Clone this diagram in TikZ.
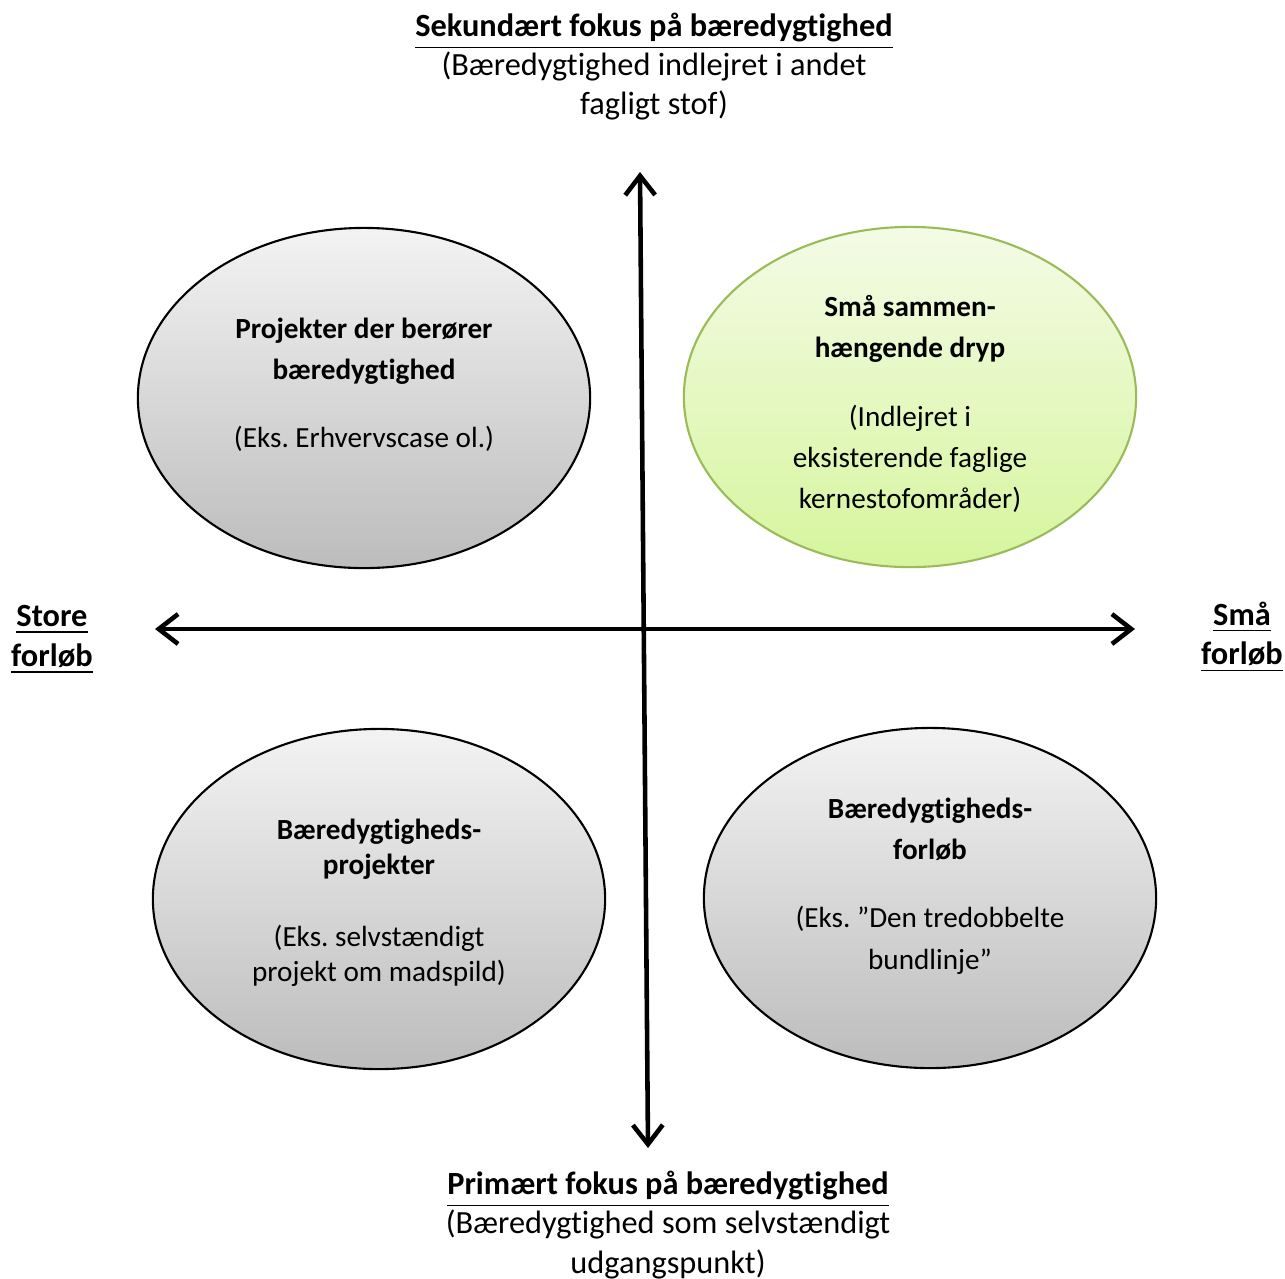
\documentclass[tikz,border=0pt]{standalone}
\usepackage{fontspec}
\setmainfont[Ligatures=CommonOff]{Carlito}
\usetikzlibrary{shapes.geometric,arrows.meta,positioning}
\definecolor{greytop}{RGB}{243,243,243}
\definecolor{greybot}{RGB}{188,188,188}
\definecolor{greentop}{RGB}{244,251,230}
\definecolor{greenbot}{RGB}{214,245,157}
\definecolor{greenline}{RGB}{155,187,89}
\frenchspacing

\begin{document}
\begin{tikzpicture}[x=0.01cm,y=-0.01cm,
    bubble/.style={ellipse,draw,line width=0.6pt,minimum width=4.52cm,minimum height=3.40cm,
        top color=greytop,bottom color=greybot},
    greenbubble/.style={bubble,draw=greenline,top color=greentop,bottom color=greenbot},
    txt/.style={align=center,inner sep=0pt,font=\fontsize{8.3}{11.7}\selectfont},
    axislabel/.style={txt,font=\fontsize{9.2}{11.1}\selectfont},
    axis/.style={line width=1.3pt,line cap=round,line join=round,
        {Straight Barb[length=5.5pt,width=8.5pt]}-{Straight Barb[length=5.5pt,width=8.5pt]}}]
    \useasboundingbox (0,0) rectangle (1285,1278);
    % quadrants
    \node[bubble] (projekter) at (364,398) {};
    \node[greenbubble] (dryp) at (910,397) {};
    \node[bubble] (bprojekter) at (379,899) {};
    \node[bubble] (bforloeb) at (930,898) {};

    \node[txt] (projektertxt) at (364,385) {\textbf{Projekter der berører}\\\textbf{bæredygtighed}\\[7.7pt](Eks. Erhvervscase ol.)};
    \node[txt] (dryptxt) at (910,404) {\textbf{Små sammen-}\\\textbf{hængende dryp}\\[7.7pt](Indlejret i\\eksisterende faglige\\kernestofområder)};
    \node[txt,font=\fontsize{8.3}{10}\selectfont] (bprojektertxt) at (379,903) {\textbf{Bæredygtigheds-}\\\textbf{projekter}\\[10.5pt](Eks. selvstændigt\\projekt om madspild)};
    \node[txt] (bforloebtxt) at (930,886) {\textbf{Bæredygtigheds-}\\\textbf{forløb}\\[7.7pt](Eks. ”Den tredobbelte\\bundlinje”};

    % axes
    \coordinate (top) at (640,172);
    \coordinate (bottom) at (648,1148);
    \coordinate (left) at (155,629);
    \coordinate (right) at (1135,629);
    \draw[axis] (bottom) -- (top);
    \draw[axis] (left) -- (right);

    % axis labels
    \node[axislabel] (sekundaert) at (654,67) {\underline{\textbf{Sekundært fokus på bæredygtighed}}\\(Bæredygtighed indlejret i andet\\fagligt stof)};
    \node[axislabel] (primaert) at (668,1225) {\underline{\textbf{Primært fokus på bæredygtighed}}\\(Bæredygtighed som selvstændigt\\udgangspunkt)};
    \node[axislabel] (store) at (52,640) {\underline{\textbf{Store}}\\\underline{\textbf{forløb}}};
    \node[axislabel] (smaa) at (1242,637) {\underline{\textbf{Små}}\\\underline{\textbf{forløb}}};
\end{tikzpicture}
\end{document}
